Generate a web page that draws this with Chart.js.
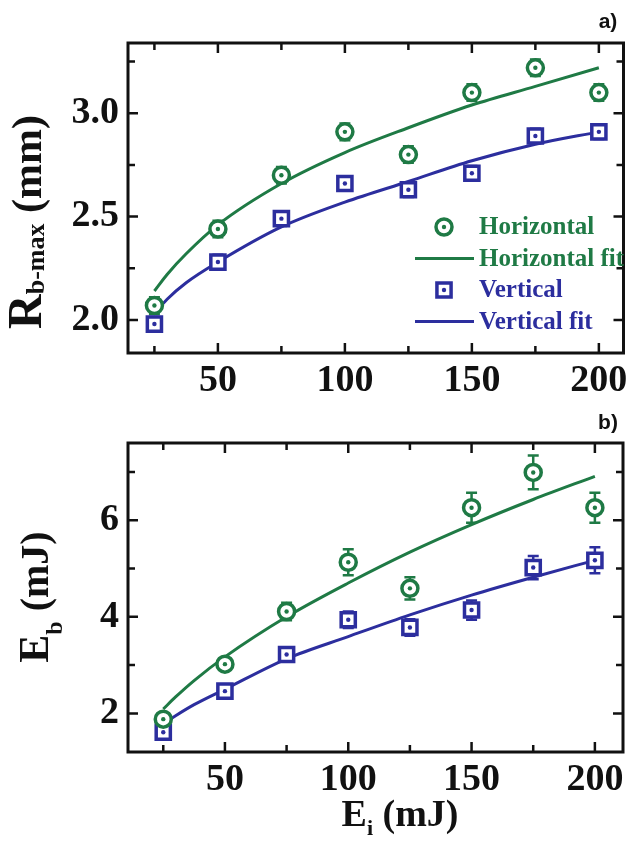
<!DOCTYPE html>
<html lang="en">
<head>
    <meta charset="UTF-8">
    <title>Beam radius and energy vs input energy</title>
    <script src="https://cdn.jsdelivr.net/npm/chart.js"></script>
    <style>
        body { margin: 0; background: #fff; }
        .panel { position: relative; width: 637px; }
    </style>
</head>
<body>
    <div class="panel" style="height:410px"><canvas id="chartA"></canvas></div>
    <div class="panel" style="height:438px"><canvas id="chartB"></canvas></div>

    <script>
        // values
        var energyIn = [25, 50, 75, 100, 125, 150, 175, 200];
        var fitEnergy = [25, 30, 37.5, 50, 75, 100, 125, 150, 175, 200];

        // panel a) R_b-max (mm)
        var radiusH    = [2.07, 2.44, 2.70, 2.91, 2.80, 3.10, 3.22, 3.10];
        var radiusHErr = [0.04, 0.04, 0.04, 0.04, 0.04, 0.04, 0.04, 0.04];
        var radiusV    = [1.98, 2.28, 2.49, 2.66, 2.63, 2.71, 2.89, 2.91];
        var radiusVErr = [0.035, 0.035, 0.035, 0.035, 0.035, 0.035, 0.035, 0.035];
        var radiusHFit = [2.14, 2.22, 2.32, 2.46, 2.66, 2.81, 2.93, 3.04, 3.13, 3.22];
        var radiusVFit = [2.03, 2.10, 2.18, 2.28, 2.45, 2.57, 2.67, 2.77, 2.85, 2.91];

        // panel b) E_b (mJ)
        var energyH    = [1.88, 3.02, 4.11, 5.13, 4.59, 6.26, 6.99, 6.26];
        var energyHErr = [0.08, 0.10, 0.18, 0.27, 0.23, 0.31, 0.35, 0.31];
        var energyV    = [1.61, 2.46, 3.22, 3.94, 3.78, 4.14, 5.02, 5.17];
        var energyVErr = [0.07, 0.08, 0.12, 0.17, 0.17, 0.20, 0.24, 0.27];
        var energyHFit = [2.09, 2.34, 2.68, 3.17, 4.00, 4.70, 5.34, 5.91, 6.43, 6.91];
        var energyVFit = [1.78, 1.95, 2.18, 2.50, 3.13, 3.59, 4.04, 4.45, 4.82, 5.17];

        // ticks
        var xTicks = [25, 50, 75, 100, 125, 150, 175, 200];
        var xLabels = [50, 100, 150, 200];
        var yTicksA = [2.0, 2.25, 2.5, 2.75, 3.0, 3.25];
        var yLabelsA = [2.0, 2.5, 3.0];
        var yTicksB = [2, 3, 4, 5, 6, 7];
        var yLabelsB = [2, 4, 6];

        var GREEN = '#1f7a45';
        var BLUE = '#2c2e9e';
        var SERIF = '"Liberation Serif", "Times New Roman", serif';

        function toXY(xs, ys) {
            return xs.map(function (x, i) { return { x: x, y: ys[i] }; });
        }

        function setTicks(list) {
            return function (scale) {
                scale.ticks = list.map(function (v) { return { value: v }; });
            };
        }

        // error bars under the markers, dot in the middle of each marker
        var errorBars = {
            id: 'errorBars',
            beforeDatasetsDraw: function (chart) {
                var ctx = chart.ctx, yScale = chart.scales.y;
                chart.data.datasets.forEach(function (ds, di) {
                    if (!ds.errors) return;
                    var meta = chart.getDatasetMeta(di);
                    ctx.save();
                    ctx.strokeStyle = ds.borderColor;
                    ctx.lineWidth = 2.5;
                    meta.data.forEach(function (pt, i) {
                        var v = ds.data[i].y, e = ds.errors[i];
                        var y0 = yScale.getPixelForValue(v - e), y1 = yScale.getPixelForValue(v + e);
                        ctx.beginPath();
                        ctx.moveTo(pt.x, y0); ctx.lineTo(pt.x, y1);
                        ctx.moveTo(pt.x - 5.5, y0); ctx.lineTo(pt.x + 5.5, y0);
                        ctx.moveTo(pt.x - 5.5, y1); ctx.lineTo(pt.x + 5.5, y1);
                        ctx.stroke();
                    });
                    ctx.restore();
                });
            },
            afterDatasetsDraw: function (chart) {
                var ctx = chart.ctx;
                chart.data.datasets.forEach(function (ds, di) {
                    if (!ds.errors) return;
                    var meta = chart.getDatasetMeta(di);
                    ctx.save();
                    ctx.fillStyle = ds.borderColor;
                    meta.data.forEach(function (pt) {
                        ctx.beginPath();
                        ctx.arc(pt.x, pt.y, 2.2, 0, Math.PI * 2);
                        ctx.fill();
                    });
                    ctx.restore();
                });
            }
        };

        // box with inward ticks on all four sides
        var frame = {
            id: 'frame',
            afterDraw: function (chart) {
                var ctx = chart.ctx, a = chart.chartArea;
                var xs = chart.scales.x, ys = chart.scales.y;
                var o = chart.options.plugins.frame;
                ctx.save();
                ctx.strokeStyle = '#111';
                ctx.lineWidth = 3;
                ctx.strokeRect(a.left, a.top, a.right - a.left, a.bottom - a.top);
                ctx.lineWidth = 2.5;
                ctx.beginPath();
                xTicks.forEach(function (v) {
                    var px = xs.getPixelForValue(v);
                    var len = xLabels.indexOf(v) >= 0 ? 10 : 7;
                    ctx.moveTo(px, a.bottom); ctx.lineTo(px, a.bottom - len);
                    ctx.moveTo(px, a.top); ctx.lineTo(px, a.top + len);
                });
                o.yTicks.forEach(function (v) {
                    var py = ys.getPixelForValue(v);
                    var len = o.yLabels.indexOf(v) >= 0 ? 10 : 7;
                    ctx.moveTo(a.left, py); ctx.lineTo(a.left + len, py);
                    ctx.moveTo(a.right, py); ctx.lineTo(a.right - len, py);
                });
                ctx.stroke();
                ctx.restore();
            }
        };

        // text made of pieces (main + subscript), optionally rotated
        function drawPieces(ctx, pieces, x, y, rotated) {
            ctx.save();
            var total = 0;
            pieces.forEach(function (p) {
                ctx.font = 'bold ' + p.size + 'px ' + SERIF;
                p.w = ctx.measureText(p.t).width;
                total += p.w;
            });
            ctx.translate(x, y);
            if (rotated) ctx.rotate(-Math.PI / 2);
            ctx.textBaseline = 'alphabetic';
            ctx.textAlign = 'left';
            ctx.fillStyle = '#111';
            var cx = -total / 2;
            pieces.forEach(function (p) {
                ctx.font = 'bold ' + p.size + 'px ' + SERIF;
                ctx.fillText(p.t, cx, p.dy || 0);
                cx += p.w;
            });
            ctx.restore();
        }

        var labels = {
            id: 'labels',
            afterDraw: function (chart) {
                var o = chart.options.plugins.labels, ctx = chart.ctx;
                ctx.save();
                ctx.font = 'bold 21px "Liberation Sans", Arial, sans-serif';
                ctx.fillStyle = '#111';
                ctx.textAlign = 'center';
                ctx.textBaseline = 'middle';
                ctx.fillText(o.tag, 608, o.tagY);
                ctx.restore();
                drawPieces(ctx, o.yTitle, o.yTitleX, o.yTitleY, true);
                if (o.xTitle) drawPieces(ctx, o.xTitle, o.xTitleX, o.xTitleY, false);
            }
        };

        // legend drawn inside the plot area
        var insetLegend = {
            id: 'insetLegend',
            afterDraw: function (chart) {
                var o = chart.options.plugins.insetLegend;
                if (!o || !o.show) return;
                var ctx = chart.ctx;
                ctx.save();
                ctx.font = 'bold 25px ' + SERIF;
                ctx.textBaseline = 'middle';
                chart.data.datasets.forEach(function (ds, i) {
                    var y = o.top + i * o.gap;
                    ctx.strokeStyle = ds.borderColor;
                    ctx.fillStyle = ds.borderColor;
                    ctx.lineWidth = ds.borderWidth;
                    if (ds.showLine) {
                        ctx.beginPath();
                        ctx.moveTo(o.lineX0, y); ctx.lineTo(o.lineX1, y);
                        ctx.stroke();
                    } else {
                        ctx.fillStyle = '#fff';
                        ctx.beginPath();
                        if (ds.pointStyle === 'rect') {
                            var s = ds.pointRadius * Math.SQRT1_2;
                            ctx.rect(o.markX - s, y - s, 2 * s, 2 * s);
                        } else {
                            ctx.arc(o.markX, y, ds.pointRadius, 0, Math.PI * 2);
                        }
                        ctx.fill(); ctx.stroke();
                        ctx.fillStyle = ds.borderColor;
                        ctx.beginPath();
                        ctx.arc(o.markX, y, 2.2, 0, Math.PI * 2);
                        ctx.fill();
                    }
                    ctx.fillStyle = ds.borderColor;
                    ctx.fillText(ds.label, o.textX, y + 1);
                });
                ctx.restore();
            }
        };

        function markerSet(label, xs, ys, errs, color, style, radius) {
            return {
                label: label, data: toXY(xs, ys), errors: errs,
                pointStyle: style, pointRadius: radius, borderWidth: 3.5,
                borderColor: color, backgroundColor: '#fff', showLine: false, order: 1
            };
        }

        function fitSet(label, xs, ys, color) {
            return {
                label: label, data: toXY(xs, ys), showLine: true, pointRadius: 0,
                borderColor: color, borderWidth: 3, cubicInterpolationMode: 'monotone', order: 2
            };
        }

        function drawPanel(id, p) {
            var tickFont = { family: SERIF, size: 38, weight: 'bold' };
            return new Chart(document.getElementById(id), {
                type: 'scatter',
                data: {
                    datasets: [
                        markerSet('Horizontal', energyIn, p.h, p.hErr, GREEN, 'circle', 8),
                        fitSet('Horizontal fit', fitEnergy, p.hFit, GREEN),
                        markerSet('Vertical', energyIn, p.v, p.vErr, BLUE, 'rect', 10),
                        fitSet('Vertical fit', fitEnergy, p.vFit, BLUE)
                    ]
                },
                options: {
                    responsive: true,
                    maintainAspectRatio: false,
                    animation: false,
                    layout: { padding: p.padding },
                    scales: {
                        x: {
                            type: 'linear', min: p.xMin, max: p.xMax,
                            afterBuildTicks: setTicks(xTicks),
                            afterFit: function (s) { s.height = p.xHeight; },
                            grid: { display: false, drawTicks: false },
                            border: { display: false },
                            ticks: {
                                autoSkip: false, maxRotation: 0, padding: 5, color: '#111', font: tickFont,
                                callback: function (v) { return xLabels.indexOf(v) >= 0 ? String(v) : ''; }
                            }
                        },
                        y: {
                            type: 'linear', min: p.yMin, max: p.yMax,
                            afterBuildTicks: setTicks(p.yTicks),
                            afterFit: function (s) { s.width = 128; },
                            grid: { display: false, drawTicks: false },
                            border: { display: false },
                            ticks: {
                                autoSkip: false, padding: 9, color: '#111', font: tickFont,
                                callback: function (v) { return p.yLabels.indexOf(v) >= 0 ? v.toFixed(p.decimals) : ''; }
                            }
                        }
                    },
                    plugins: {
                        legend: { display: false },
                        tooltip: { enabled: false },
                        frame: { yTicks: p.yTicks, yLabels: p.yLabels },
                        labels: p.labels,
                        insetLegend: p.legend
                    }
                },
                plugins: [errorBars, frame, labels, insetLegend]
            });
        }

        drawPanel('chartA', {
            h: radiusH, hErr: radiusHErr, v: radiusV, vErr: radiusVErr, hFit: radiusHFit, vFit: radiusVFit,
            xMin: 14.6, xMax: 209.7, yMin: 1.84, yMax: 3.34,
            yTicks: yTicksA, yLabels: yLabelsA, decimals: 1,
            padding: { top: 43, right: 7, left: 0, bottom: 0 }, xHeight: 57,
            labels: {
                tag: 'a)', tagY: 22,
                yTitle: [{ t: 'R', size: 48 }, { t: 'b-max', size: 26, dy: 3 }, { t: ' (mm)', size: 42 }],
                yTitleX: 41, yTitleY: 222
            },
            legend: { show: true, top: 227, gap: 31.5, markX: 444, lineX0: 415, lineX1: 474, textX: 479 }
        });

        drawPanel('chartB', {
            h: energyH, hErr: energyHErr, v: energyV, vErr: energyVErr, hFit: energyHFit, vFit: energyVFit,
            xMin: 10.7, xMax: 211.4, yMin: 1.2, yMax: 7.6,
            yTicks: yTicksB, yLabels: yLabelsB, decimals: 0,
            padding: { top: 33, right: 14, left: 0, bottom: 0 }, xHeight: 96,
            labels: {
                tag: 'b)', tagY: 13,
                yTitle: [{ t: 'E', size: 42 }, { t: 'b', size: 24, dy: 14 }, { t: ' (mJ)', size: 40 }],
                yTitleX: 48, yTitleY: 187,
                xTitle: [{ t: 'E', size: 38 }, { t: 'i', size: 22, dy: 9 }, { t: ' (mJ)', size: 38 }],
                xTitleX: 400, xTitleY: 416
            },
            legend: { show: false }
        });
    </script>
</body>
</html>
